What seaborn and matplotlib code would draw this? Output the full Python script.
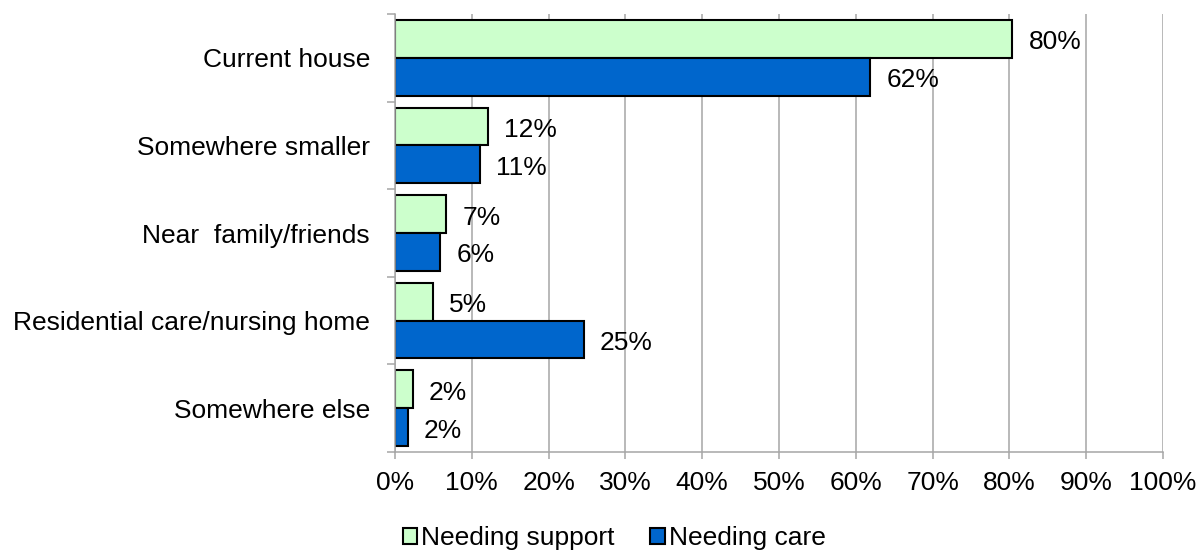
import matplotlib
matplotlib.use("Agg")
import matplotlib.pyplot as plt
import seaborn as sns
import pandas as pd
from matplotlib.patches import Patch

categories = ["Current house", "Somewhere smaller", "Near  family/friends",
              "Residential care/nursing home", "Somewhere else"]
needing_support = [80.4, 12.1, 6.7, 5.0, 2.3]
needing_care = [61.9, 11.1, 5.9, 24.6, 1.7]
series_names = ["Needing support", "Needing care"]
x_ticks = list(range(0, 101, 10))
x_tick_labels = [f"{t}%" for t in x_ticks]
colors = ["#CCFFCC", "#0066CC"]

sns.set_style("white")
plt.rcParams["font.family"] = ["Liberation Sans", "DejaVu Sans"]
plt.rcParams["text.color"] = "black"
plt.rcParams["xtick.labelcolor"] = "black"
plt.rcParams["ytick.labelcolor"] = "black"

df = pd.DataFrame({
    "category": categories * 2,
    "series": [series_names[0]] * len(categories) + [series_names[1]] * len(categories),
    "value": needing_support + needing_care,
})

W, H = 1199, 552
fig = plt.figure(figsize=(W / 100, H / 100), dpi=100)
ax = fig.add_axes([395 / W, 1 - 452 / H, (1163 - 395) / W, (452 - 14) / H])

sns.barplot(data=df, y="category", x="value", hue="series", order=categories,
            hue_order=series_names, palette=colors, width=0.865, edgecolor="black",
            linewidth=1.5, orient="h", ax=ax, legend=False, saturation=1)

grid_c = "#A6A6A6"
ax.set_axisbelow(True)
ax.xaxis.grid(True, color=grid_c, linewidth=1.1)
ax.yaxis.grid(False)
ax.set_xlim(0, 100)
ax.set_ylim(len(categories) - 0.5, -0.5)
ax.set_xticks(x_ticks)
ax.set_xticklabels(x_tick_labels, fontsize=19, color="black")
ax.set_yticks(range(len(categories)))
ax.set_yticklabels(categories, fontsize=19, color="black")
ax.set_yticks([i - 0.5 for i in range(len(categories) + 1)], minor=True)
ax.tick_params(axis="y", which="major", length=0, pad=18, left=False)
ax.tick_params(axis="y", which="minor", length=6, width=1.1, color=grid_c, direction="out", left=True)
ax.tick_params(axis="x", which="major", length=5, width=1.1, color=grid_c, direction="out", bottom=True, pad=9)
ax.set_xlabel("")
ax.set_ylabel("")
for s in ["top", "right"]:
    ax.spines[s].set_visible(False)
for s in ["left", "bottom"]:
    ax.spines[s].set_color(grid_c)
    ax.spines[s].set_linewidth(1.1)

for container, vals in zip(ax.containers, [needing_support, needing_care]):
    texts = ax.bar_label(container, labels=[f"{v:.0f}%" for v in vals], padding=11.5,
                         fontsize=19, color="black")
    for t in texts:
        t.xyann = (11.5, -2.5)

handles = [Patch(facecolor=c, edgecolor="black", linewidth=1.5) for c in colors]
leg = fig.legend(handles, series_names, loc="center", bbox_to_anchor=(614 / W, 1 - 538 / H),
                 ncol=2, frameon=False, fontsize=19, handlelength=0.55, handleheight=0.55,
                 handletextpad=0.15, columnspacing=1.35, borderpad=0)
for t in leg.get_texts():
    t.set_color("black")

fig.savefig("out.png", dpi=100)
